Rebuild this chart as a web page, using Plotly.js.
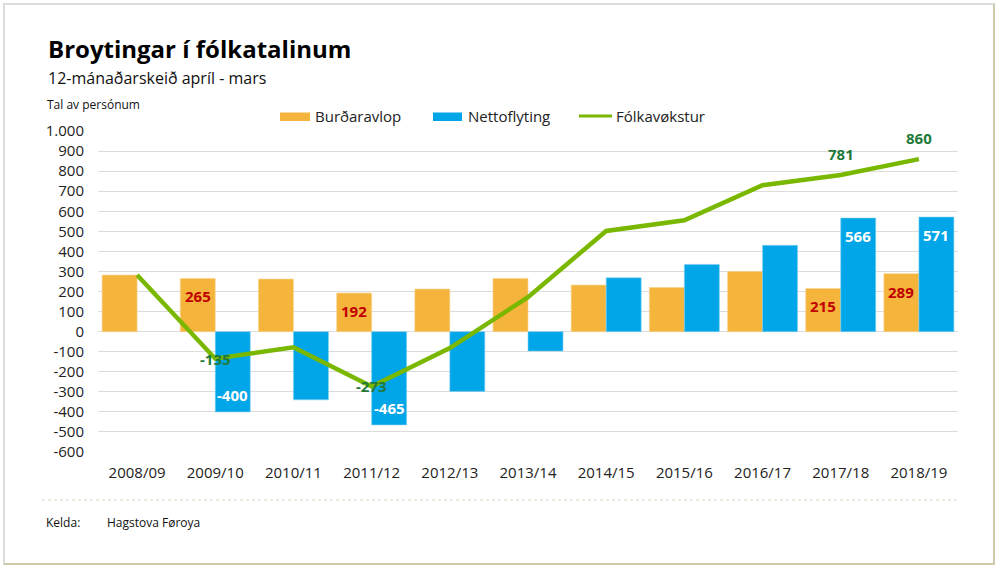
<!DOCTYPE html>
<html>
<head>
<meta charset="utf-8">
<script src="https://cdn.plot.ly/plotly-3.0.1.min.js"></script>
<style>
  html, body { margin: 0; padding: 0; background: #ffffff; }
  #frame { position: absolute; left: 3px; top: 3px; width: 992px; height: 562px;
           border-top: 2px solid #dcdcdc; border-left: 2px solid #dcdcdc;
           border-right: 2px solid #cfcbaa; border-bottom: 2px solid #cfcbaa; box-sizing: border-box; }
  #chart { position: absolute; left: 0; top: 0; width: 1000px; height: 570px; }
</style>
</head>
<body>
<div id="frame"></div>
<div id="chart"></div>
<script>
// ---- data ----
const categories = ['2008/09','2009/10','2010/11','2011/12','2012/13','2013/14','2014/15','2015/16','2016/17','2017/18','2018/19'];
const births     = [282, 265, 262, 192, 212, 265, 232, 220, 300, 215, 289];         // Burðaravlop
const netMigration = [null, -400, -340, -465, -298, -97, 268, 335, 430, 566, 571];  // Nettoflyting
const growth     = [282, -135, -78, -273, -82, 172, 502, 555, 730, 781, 860];        // Fólkavøkstur
const birthsLabelled = ['2009/10','2011/12','2017/18','2018/19'];
const netLabelled    = ['2009/10','2011/12','2017/18','2018/19'];
const growthLabelled = ['2009/10','2011/12','2017/18','2018/19'];
const yTickVals   = [-600,-500,-400,-300,-200,-100,0,100,200,300,400,500,600,700,800,900,1000];
const yTickLabels = ['-600','-500','-400','-300','-200','-100','0','100','200','300','400','500','600','700','800','900','1.000'];
const seriesNames = ['Burðaravlop','Nettoflyting','Fólkavøkstur'];
const titleText = 'Broytingar í fólkatalinum';
const subtitleText = '12-mánaðarskeið apríl - mars';
const unitText = 'Tal av persónum';
const sourceLabel = 'Kelda:';
const sourceText = 'Hagstova Føroya';

// ---- styles / geometry ----
const W = 1000, H = 570;
const M = {l: 98, r: 42, t: 131, b: 118};
const plotW = W - M.l - M.r, plotH = H - M.t - M.b;
const px = x => (x - M.l) / plotW;          // pixel -> paper x
const py = y => (H - M.b - y) / plotH;      // pixel -> paper y
const FONT = '"Open Sans", "Noto Sans", sans-serif';
const ORANGE = '#F5B43C', BLUE = '#00A6E8', GREEN = '#7AB800';
const RED_TXT = '#C00000', GREEN_TXT = '#1F7A3A';

const traces = [
  {type: 'bar', name: seriesNames[0], x: categories, y: births,
   marker: {color: ORANGE, line: {color: '#FAD58E', width: 0.6}}, hoverinfo: 'skip'},
  {type: 'bar', name: seriesNames[1], x: categories, y: netMigration,
   marker: {color: BLUE, line: {color: '#7FD0F2', width: 0.6}}, hoverinfo: 'skip'},
  {type: 'scatter', mode: 'lines', name: seriesNames[2], x: categories, y: growth,
   line: {color: GREEN, width: 4.5}, hoverinfo: 'skip'}
];

const annotations = [];
const halfBar = plotW / categories.length * (1 - 0.105) / 4;
categories.forEach((c, i) => {
  if (birthsLabelled.includes(c)) {
    annotations.push({x: c, y: births[i], xref: 'x', yref: 'y', text: String(births[i]), showarrow: false,
      xshift: -halfBar, yshift: births[i] >= 0 ? -18 : 18,
      font: {family: FONT, size: 15, color: RED_TXT, weight: 'bold'}});
  }
  if (netLabelled.includes(c) && netMigration[i] !== null) {
    annotations.push({x: c, y: netMigration[i], xref: 'x', yref: 'y', text: String(netMigration[i]), showarrow: false,
      xshift: halfBar, yshift: netMigration[i] >= 0 ? -18 : 17,
      font: {family: FONT, size: 15, color: '#FFFFFF', weight: 'bold'}});
  }
  if (growthLabelled.includes(c)) {
    annotations.push({x: c, y: growth[i], xref: 'x', yref: 'y', text: String(growth[i]), showarrow: false,
      yshift: growth[i] >= 0 ? 21 : 0,
      font: {family: FONT, size: 15, color: GREEN_TXT, weight: 'bold'}});
  }
});

// header texts
annotations.push({xref: 'paper', yref: 'paper', x: px(46), y: py(48), xanchor: 'left', yanchor: 'middle',
  text: '<b>' + titleText + '</b>', showarrow: false, font: {family: FONT, size: 24, color: '#000000'}});
annotations.push({xref: 'paper', yref: 'paper', x: px(46), y: py(78), xanchor: 'left', yanchor: 'middle',
  text: subtitleText, showarrow: false, font: {family: FONT, size: 16, color: '#111111'}});
annotations.push({xref: 'paper', yref: 'paper', x: px(45), y: py(104), xanchor: 'left', yanchor: 'middle',
  text: unitText, showarrow: false, font: {family: FONT, size: 12, color: '#111111'}});
// source
annotations.push({xref: 'paper', yref: 'paper', x: px(44), y: py(522), xanchor: 'left', yanchor: 'middle',
  text: sourceLabel, showarrow: false, font: {family: FONT, size: 12, color: '#111111'}});
annotations.push({xref: 'paper', yref: 'paper', x: px(105), y: py(522), xanchor: 'left', yanchor: 'middle',
  text: sourceText, showarrow: false, font: {family: FONT, size: 12, color: '#111111'}});

// custom legend
const legendY = 116;
const legendItems = [
  {kind: 'rect', x0: 280, x1: 310, color: ORANGE, tx: 313, name: seriesNames[0]},
  {kind: 'rect', x0: 433, x1: 462, color: BLUE, tx: 466, name: seriesNames[1]},
  {kind: 'line', x0: 579, x1: 612, color: GREEN, tx: 614, name: seriesNames[2]}
];
const shapes = [];
legendItems.forEach(it => {
  if (it.kind === 'rect') {
    shapes.push({type: 'rect', xref: 'paper', yref: 'paper', x0: px(it.x0), x1: px(it.x1),
      y0: py(legendY + 5), y1: py(legendY - 3.5), fillcolor: it.color, line: {width: 0}});
  } else {
    shapes.push({type: 'line', xref: 'paper', yref: 'paper', x0: px(it.x0), x1: px(it.x1),
      y0: py(legendY), y1: py(legendY), line: {color: it.color, width: 3}});
  }
  annotations.push({xref: 'paper', yref: 'paper', x: px(it.tx), y: py(legendY), xanchor: 'left', yanchor: 'middle',
    text: it.name, showarrow: false, font: {family: FONT, size: 15, color: '#222222'}});
});
// separator above source
shapes.push({type: 'line', xref: 'paper', yref: 'paper', x0: px(42), x1: px(958), y0: py(500), y1: py(500),
  line: {color: '#D9D7C2', width: 1, dash: 'dot'}});

const layout = {
  width: W, height: H,
  margin: M,
  paper_bgcolor: 'rgba(0,0,0,0)', plot_bgcolor: 'rgba(0,0,0,0)',
  font: {family: FONT, color: '#222222'},
  barmode: 'group', bargap: 0.105, bargroupgap: 0,
  showlegend: false,
  xaxis: {type: 'category', showgrid: false, zeroline: false, showline: false, ticks: '',
    tickfont: {family: FONT, size: 15, color: '#222222'}, ticklabelstandoff: 10, fixedrange: true},
  yaxis: {range: [-600, 1000], tickvals: yTickVals, ticktext: yTickLabels, showgrid: true,
    gridcolor: '#DCDCDC', gridwidth: 1, zeroline: true, zerolinecolor: '#DCDCDC', zerolinewidth: 1,
    showline: false, ticks: '', tickfont: {family: FONT, size: 15, color: '#222222'},
    ticklabelstandoff: 13, fixedrange: true},
  annotations: annotations,
  shapes: shapes
};

Plotly.newPlot('chart', traces, layout, {displayModeBar: false, staticPlot: true});
</script>
</body>
</html>
